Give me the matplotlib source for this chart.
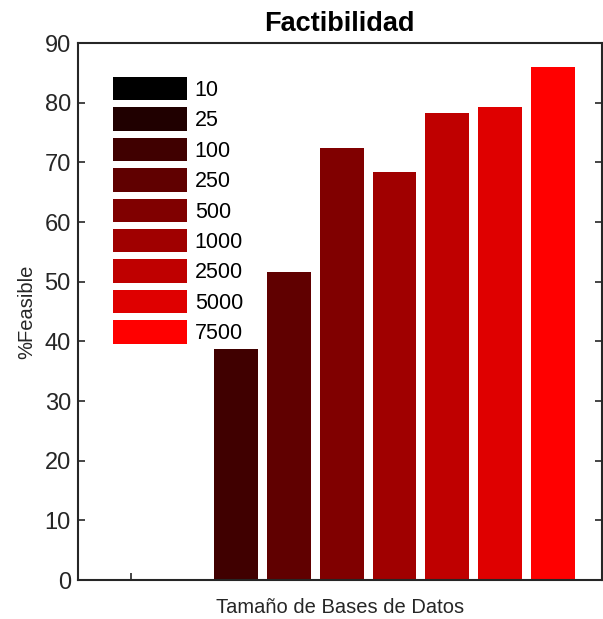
import matplotlib
matplotlib.use("Agg")
import matplotlib.pyplot as plt
from matplotlib.patches import Patch

sizes = ["10", "25", "100", "250", "500", "1000", "2500", "5000", "7500"]
feasible = [0, 0, 38.8, 51.6, 72.4, 68.3, 78.3, 79.3, 85.9]
colors = ["#000000", "#200000", "#400000", "#600000", "#800000",
          "#a00000", "#bf0000", "#df0000", "#ff0000"]

plt.rcParams['font.family'] = ['Liberation Sans', 'DejaVu Sans']
fig = plt.figure(figsize=(6.03, 6.19), dpi=100)
ax = fig.add_axes([0.129, 0.063, 0.869, 0.8675])

positions = list(range(len(sizes)))
for p, v, c in zip(positions, feasible, colors):
    ax.bar(p, v, width=0.83, color=c, edgecolor='none')

ax.set_xlim(-1.0, 8.93)
ax.set_ylim(0, 90)
ax.set_yticks(range(0, 91, 10))
ax.set_xticks([0])
ax.set_xticklabels([""])
ax.tick_params(axis='both', direction='in', length=5, width=1.2, color='#262626',
               labelsize=17, labelcolor='#262626', top=False, right=True, pad=5)
for s in ax.spines.values():
    s.set_linewidth(1.5)
    s.set_color('#262626')

ax.set_title("Factibilidad", fontsize=19.5, fontweight='bold', pad=9)
ax.set_xlabel("Tamaño de Bases de Datos", fontsize=14.5, color='#262626', labelpad=8)
ax.set_ylabel("%Feasible", fontsize=14.5, color='#262626', labelpad=6)

handles = [Patch(facecolor=c, edgecolor='none') for c in colors]
leg = ax.legend(handles, sizes, loc='upper left', bbox_to_anchor=(113/603, 1 - 77/619),
                bbox_transform=fig.transFigure, frameon=False, fontsize=15.5,
                handlelength=3.45, handleheight=1.3, labelspacing=0.3,
                handletextpad=0.35, borderpad=0, borderaxespad=0)

fig.savefig("out.png", dpi=100)
